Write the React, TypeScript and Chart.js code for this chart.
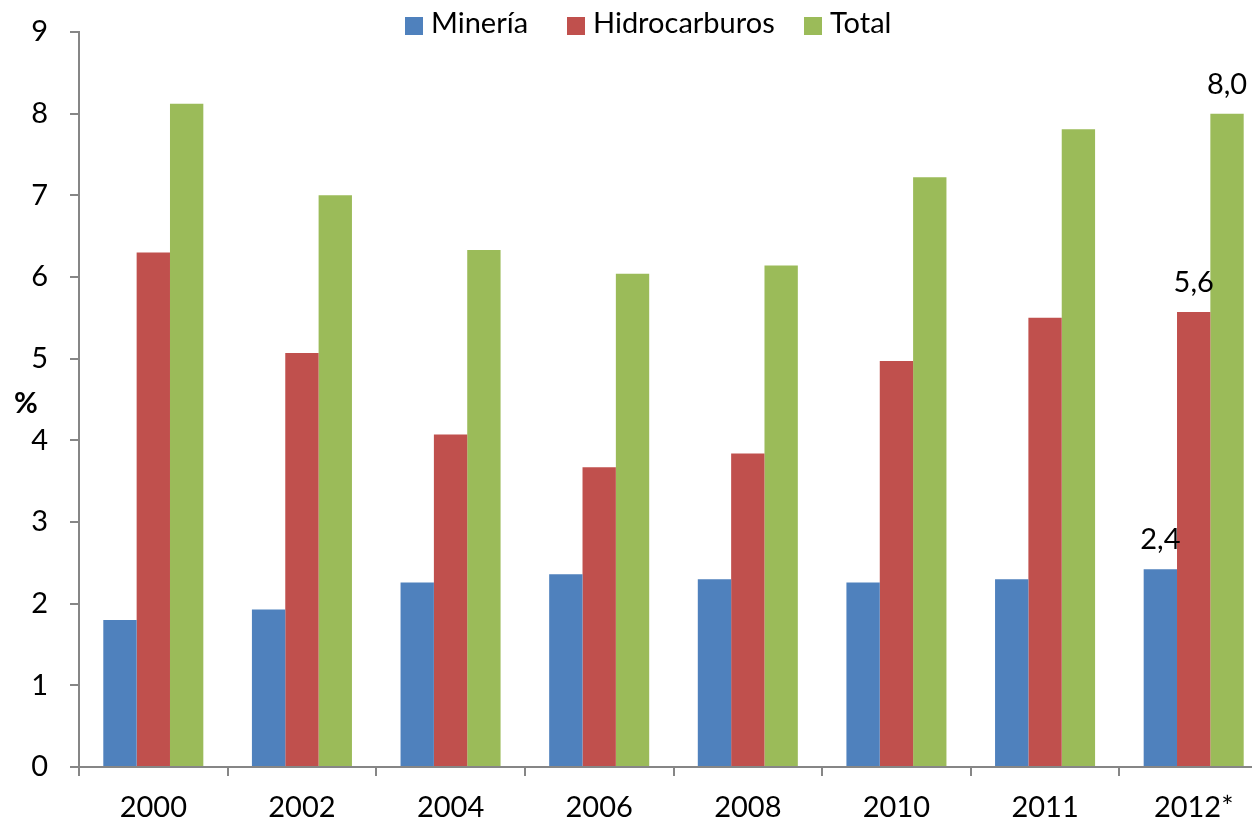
import React, { useEffect, useRef } from "react";
import { Chart, registerables } from "chart.js";

Chart.register(...registerables);

const categories = ["2000", "2002", "2004", "2006", "2008", "2010", "2011", "2012*"];
const mineria = [1.8, 1.93, 2.26, 2.36, 2.3, 2.26, 2.3, 2.42];
const hidrocarburos = [6.3, 5.07, 4.07, 3.67, 3.84, 4.97, 5.5, 5.57];
const total = [8.12, 7.0, 6.33, 6.04, 6.14, 7.22, 7.81, 8.0];
const seriesNames = ["Minería", "Hidrocarburos", "Total"];
const seriesColors = ["#4F81BD", "#C0504D", "#9BBB59"];
const yMin = 0;
const yMax = 9;
const yStep = 1;
const yTitle = "%";
const labeledIndex = 7;

const FONT = "Lato, 'Open Sans', sans-serif";
const FSIZE = 29;
const AXIS = "#868686";

const legendPlugin = {
  id: "topLegend",
  afterDraw(chart: any) {
    const ctx = chart.ctx;
    const xs = [405, 567, 804];
    ctx.save();
    ctx.font = `${FSIZE}px ${FONT}`;
    ctx.textBaseline = "alphabetic";
    ctx.textAlign = "left";
    chart.data.datasets.forEach((ds: any, i: number) => {
      ctx.fillStyle = ds.backgroundColor;
      ctx.fillRect(xs[i], 17, 18, 18);
      ctx.fillStyle = "#000";
      ctx.fillText(ds.label, xs[i] + 26, 33);
    });
    ctx.restore();
  },
};

const extrasPlugin = {
  id: "extras",
  afterDraw(chart: any) {
    const ctx = chart.ctx;
    ctx.save();
    ctx.font = `bold ${FSIZE}px ${FONT}`;
    ctx.fillStyle = "#000";
    ctx.textAlign = "center";
    ctx.textBaseline = "alphabetic";
    ctx.fillText(yTitle, 26, 413);
    ctx.font = `${FSIZE}px ${FONT}`;
    chart.data.datasets.forEach((ds: any, i: number) => {
      const meta = chart.getDatasetMeta(i);
      const bar = meta.data[labeledIndex];
      if (!bar) return;
      const v = ds.data[labeledIndex];
      const txt = v.toFixed(1).replace(".", ",");
      ctx.fillText(txt, bar.x, bar.y - 20);
    });
    ctx.restore();
  },
};

export default function App() {
  const ref = useRef<HTMLCanvasElement | null>(null);

  useEffect(() => {
    if (!ref.current) return;
    const chart = new Chart(ref.current, {
      type: "bar",
      data: {
        labels: categories,
        datasets: [mineria, hidrocarburos, total].map((d, i) => ({
          label: seriesNames[i],
          data: d,
          backgroundColor: seriesColors[i],
          borderWidth: 0,
          categoryPercentage: 0.673,
          barPercentage: 1,
        })),
      },
      options: {
        animation: false,
        responsive: false,
        devicePixelRatio: 1,
        layout: { padding: { top: 32, left: 0, right: 0, bottom: 0 } },
        plugins: {
          legend: { display: false },
          tooltip: { enabled: false },
        },
        scales: {
          x: {
            offset: true,
            grid: {
              display: true,
              drawOnChartArea: false,
              drawTicks: true,
              tickLength: 9,
              color: AXIS,
              lineWidth: 2,
              offset: true,
            },
            border: { display: true, color: AXIS, width: 2 },
            ticks: {
              color: "#000",
              font: { family: FONT, size: FSIZE },
              padding: 14,
              maxRotation: 0,
              autoSkip: false,
            },
            afterFit: (s: any) => {
              s.height = 56;
            },
          },
          y: {
            min: yMin,
            max: yMax,
            grid: {
              display: true,
              drawOnChartArea: false,
              drawTicks: true,
              tickLength: 9,
              color: AXIS,
              lineWidth: 2,
            },
            border: { display: true, color: AXIS, width: 2 },
            ticks: {
              stepSize: yStep,
              color: "#000",
              font: { family: FONT, size: FSIZE },
              padding: 22,
            },
            afterFit: (s: any) => {
              s.width = 79;
              s.paddingTop = 0;
              s.paddingBottom = 0;
            },
          },
        },
      },
      plugins: [legendPlugin, extrasPlugin],
    });
    return () => chart.destroy();
  }, []);

  return (
    <div
      style={{
        position: "fixed",
        left: 0,
        top: 0,
        width: 1252,
        height: 823,
        overflow: "hidden",
        background: "#fff",
      }}
    >
      <canvas
        ref={ref}
        width={1268}
        height={823}
        style={{ display: "block", width: 1268, height: 823 }}
      />
    </div>
  );
}
